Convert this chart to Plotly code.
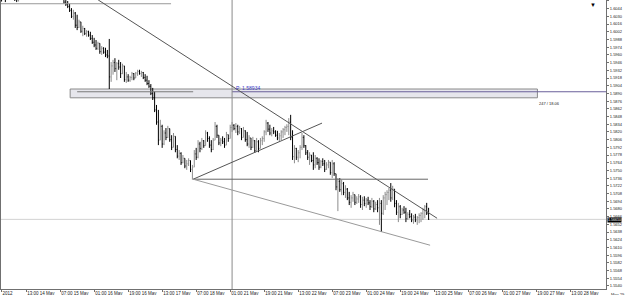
import plotly.graph_objects as go

# ---------------- data (hourly bars, index 0 = 13:00 14 May) ----------------
first_bar = -13
opens = [1.6068,1.6062,1.6071,1.6064,1.6078,1.6083,1.6070,1.6066,1.6061,1.6060,1.6070,1.6080,1.6088,
 1.6091,1.6094,1.6097,1.6093,1.6090,1.6092,1.6096,1.6094,1.6089,1.6086,1.6090,1.6088,1.6083,1.6086,1.6081,1.6077,1.6079,1.6073,1.6070,1.6067,
 1.6064,1.6056,1.6052,1.6048,1.6041,1.6030,1.6036,1.6014,1.6010,1.6020,1.6003,1.6008,1.5999,1.6002,1.5996,1.5990,1.5983,1.5978,1.5972,1.5981,
 1.5966,1.5972,1.5965,1.5960,1.5958,1.5920,1.5940,1.5946,1.5935,1.5944,1.5938,1.5926,1.5940,1.5915,1.5920,1.5914,1.5919,1.5926,1.5918,1.5927,
 1.5930,1.5926,1.5928,1.5919,1.5914,1.5908,1.5903,1.5890,1.5882,1.5860,1.5838,1.5805,1.5830,1.5798,1.5818,1.5810,1.5826,1.5806,1.5792,1.5812,
 1.5788,1.5776,1.5781,1.5764,1.5772,1.5758,1.5762,1.5768,1.5752,1.5756,1.5780,1.5774,1.5798,1.5790,1.5804,1.5795,1.5818,1.5808,1.5796,1.5788,
 1.5805,1.5830,1.5814,1.5800,1.5805,1.5802,1.5796,1.5815,1.5808,1.5828,1.5832,1.5826,1.5830,1.5820,1.5826,1.5810,1.5822,1.5806,1.5798,1.5809,
 1.5792,1.5804,1.5786,1.5802,1.5790,1.5804,1.5808,1.5820,1.5836,1.5825,1.5818,1.5822,1.5820,1.5814,1.5809,1.5813,1.5820,1.5824,1.5828,1.5830,
 1.5838,1.5810,1.5775,1.5790,1.5774,1.5782,1.5792,1.5810,1.5795,1.5782,1.5774,1.5778,1.5768,1.5760,1.5772,1.5764,1.5756,1.5766,1.5762,1.5752,
 1.5760,1.5765,1.5746,1.5762,1.5744,1.5720,1.5730,1.5715,1.5726,1.5710,1.5716,1.5700,1.5692,1.5700,1.5706,1.5692,1.5698,1.5702,1.5688,1.5696,
 1.5690,1.5696,1.5691,1.5684,1.5694,1.5680,1.5688,1.5682,1.5690,1.5672,1.5700,1.5706,1.5710,1.5714,1.5700,1.5716,1.5690,1.5674,1.5684,1.5670,
 1.5678,1.5674,1.5662,1.5670,1.5666,1.5660,1.5665,1.5660,1.5664,1.5668,1.5672,1.5678,1.5684,1.5672]
highs = [1.6072,1.6075,1.6073,1.6080,1.6086,1.6085,1.6076,1.6070,1.6064,1.6072,1.6082,1.6090,1.6095,
 1.6098,1.6101,1.6104,1.6099,1.6096,1.6100,1.6102,1.6098,1.6095,1.6093,1.6096,1.6092,1.6089,1.6091,1.6085,1.6083,1.6082,1.6078,1.6075,1.6071,
 1.6066,1.6060,1.6058,1.6053,1.6045,1.6042,1.6038,1.6033,1.6024,1.6020,1.6013,1.6009,1.6005,1.6004,1.6002,1.5996,1.5991,1.5987,1.5984,1.5981,
 1.5976,1.5974,1.5973,1.5969,1.5989,1.5947,1.5951,1.5954,1.5947,1.5951,1.5947,1.5944,1.5940,1.5929,1.5925,1.5922,1.5929,1.5927,1.5929,1.5933,
 1.5933,1.5931,1.5929,1.5925,1.5922,1.5914,1.5907,1.5900,1.5893,1.5869,1.5860,1.5842,1.5833,1.5823,1.5827,1.5831,1.5826,1.5814,1.5818,1.5812,
 1.5796,1.5787,1.5783,1.5778,1.5772,1.5769,1.5772,1.5768,1.5760,1.5787,1.5791,1.5805,1.5802,1.5809,1.5805,1.5823,1.5820,1.5812,1.5805,1.5809,
 1.5838,1.5833,1.5814,1.5809,1.5812,1.5809,1.5820,1.5815,1.5833,1.5838,1.5834,1.5836,1.5833,1.5831,1.5827,1.5829,1.5823,1.5820,1.5814,1.5809,
 1.5811,1.5805,1.5809,1.5805,1.5809,1.5812,1.5823,1.5842,1.5838,1.5833,1.5827,1.5829,1.5823,1.5822,1.5818,1.5823,1.5827,1.5831,1.5834,1.5845,
 1.5851,1.5823,1.5796,1.5791,1.5787,1.5796,1.5818,1.5814,1.5796,1.5787,1.5783,1.5778,1.5783,1.5778,1.5774,1.5772,1.5769,1.5772,1.5769,1.5765,
 1.5769,1.5765,1.5769,1.5765,1.5744,1.5736,1.5736,1.5733,1.5729,1.5723,1.5718,1.5711,1.5705,1.5711,1.5706,1.5703,1.5707,1.5705,1.5702,1.5703,
 1.5700,1.5702,1.5696,1.5700,1.5696,1.5693,1.5696,1.5700,1.5696,1.5705,1.5711,1.5714,1.5718,1.5727,1.5722,1.5716,1.5696,1.5691,1.5687,1.5682,
 1.5685,1.5682,1.5674,1.5678,1.5672,1.5669,1.5671,1.5667,1.5672,1.5674,1.5682,1.5687,1.5691,1.5682]
lows = [1.6057,1.6060,1.6056,1.6062,1.6074,1.6068,1.6062,1.6058,1.6056,1.6057,1.6068,1.6077,1.6083,
 1.6085,1.6088,1.6090,1.6086,1.6084,1.6089,1.6091,1.6087,1.6083,1.6081,1.6085,1.6080,1.6078,1.6079,1.6074,1.6072,1.6070,1.6067,1.6064,1.6061,
 1.6053,1.6049,1.6045,1.6038,1.6027,1.6024,1.6009,1.6005,1.6009,1.6000,1.5994,1.5996,1.5993,1.5993,1.5987,1.5980,1.5974,1.5969,1.5969,1.5962,
 1.5960,1.5962,1.5956,1.5954,1.5898,1.5911,1.5924,1.5929,1.5914,1.5933,1.5918,1.5925,1.5911,1.5909,1.5911,1.5911,1.5914,1.5914,1.5918,1.5922,
 1.5924,1.5920,1.5916,1.5911,1.5905,1.5900,1.5887,1.5878,1.5856,1.5833,1.5796,1.5805,1.5791,1.5796,1.5805,1.5809,1.5802,1.5787,1.5792,1.5783,
 1.5772,1.5769,1.5760,1.5763,1.5754,1.5751,1.5758,1.5747,1.5733,1.5756,1.5769,1.5772,1.5783,1.5787,1.5791,1.5795,1.5802,1.5791,1.5783,1.5787,
 1.5805,1.5809,1.5796,1.5794,1.5798,1.5791,1.5796,1.5802,1.5808,1.5820,1.5823,1.5818,1.5814,1.5816,1.5805,1.5810,1.5802,1.5794,1.5791,1.5787,
 1.5791,1.5782,1.5786,1.5783,1.5790,1.5796,1.5802,1.5814,1.5820,1.5814,1.5812,1.5816,1.5811,1.5805,1.5802,1.5805,1.5809,1.5814,1.5820,1.5814,
 1.5805,1.5769,1.5763,1.5769,1.5765,1.5772,1.5787,1.5791,1.5778,1.5769,1.5760,1.5765,1.5751,1.5754,1.5760,1.5751,1.5754,1.5758,1.5747,1.5751,
 1.5754,1.5742,1.5736,1.5740,1.5714,1.5676,1.5711,1.5705,1.5705,1.5700,1.5696,1.5687,1.5682,1.5693,1.5687,1.5689,1.5691,1.5682,1.5678,1.5685,
 1.5682,1.5687,1.5678,1.5682,1.5674,1.5678,1.5674,1.5651,1.5638,1.5669,1.5678,1.5687,1.5696,1.5693,1.5696,1.5683,1.5669,1.5656,1.5663,1.5669,
 1.5671,1.5656,1.5660,1.5663,1.5656,1.5653,1.5656,1.5651,1.5654,1.5656,1.5660,1.5663,1.5669,1.5660]
closes = [1.6062,1.6071,1.6064,1.6078,1.6083,1.6070,1.6066,1.6061,1.6060,1.6070,1.6080,1.6088,1.6091,
 1.6094,1.6097,1.6093,1.6090,1.6092,1.6096,1.6094,1.6089,1.6086,1.6090,1.6088,1.6083,1.6086,1.6081,1.6077,1.6079,1.6073,1.6070,1.6067,1.6064,
 1.6056,1.6052,1.6048,1.6041,1.6030,1.6036,1.6014,1.6010,1.6020,1.6003,1.6008,1.5999,1.6002,1.5996,1.5990,1.5983,1.5978,1.5972,1.5981,1.5966,
 1.5972,1.5965,1.5960,1.5958,1.5920,1.5940,1.5946,1.5935,1.5944,1.5938,1.5926,1.5940,1.5915,1.5920,1.5914,1.5919,1.5926,1.5918,1.5927,1.5930,
 1.5926,1.5928,1.5919,1.5914,1.5908,1.5903,1.5890,1.5882,1.5860,1.5838,1.5805,1.5830,1.5798,1.5818,1.5810,1.5826,1.5806,1.5792,1.5812,1.5788,
 1.5776,1.5781,1.5764,1.5772,1.5758,1.5762,1.5768,1.5752,1.5756,1.5780,1.5774,1.5798,1.5790,1.5804,1.5795,1.5818,1.5808,1.5796,1.5788,1.5805,
 1.5830,1.5814,1.5800,1.5805,1.5802,1.5796,1.5815,1.5808,1.5828,1.5832,1.5826,1.5830,1.5820,1.5826,1.5810,1.5822,1.5806,1.5798,1.5809,1.5792,
 1.5804,1.5786,1.5802,1.5790,1.5804,1.5808,1.5820,1.5836,1.5825,1.5818,1.5822,1.5820,1.5814,1.5809,1.5813,1.5820,1.5824,1.5828,1.5830,1.5838,
 1.5810,1.5775,1.5790,1.5774,1.5782,1.5792,1.5810,1.5795,1.5782,1.5774,1.5778,1.5768,1.5760,1.5772,1.5764,1.5756,1.5766,1.5762,1.5752,1.5760,
 1.5765,1.5746,1.5762,1.5744,1.5720,1.5730,1.5715,1.5726,1.5710,1.5716,1.5700,1.5692,1.5700,1.5706,1.5692,1.5698,1.5702,1.5688,1.5696,1.5690,
 1.5696,1.5691,1.5684,1.5694,1.5680,1.5688,1.5682,1.5690,1.5672,1.5700,1.5706,1.5710,1.5714,1.5700,1.5716,1.5690,1.5674,1.5684,1.5670,1.5678,
 1.5674,1.5662,1.5670,1.5666,1.5660,1.5665,1.5660,1.5664,1.5668,1.5672,1.5678,1.5684,1.5672,1.5661]

# time axis labels (bar index of label, text)
time_tick_bars = [-13.0, 0, 18, 36, 54, 72, 90, 108, 126, 144, 162, 180, 198, 216, 234, 252, 270, 288]
time_tick_text = ["2012", "13:00 14 May", "07:00 15 May", "01:00 16 May", "19:00 16 May", "13:00 17 May",
                  "07:00 18 May", "01:00 21 May", "19:00 21 May", "13:00 22 May", "07:00 23 May",
                  "01:00 24 May", "19:00 24 May", "13:00 25 May", "07:00 26 May", "01:00 27 May",
                  "19:00 27 May", "13:00 28 May"]
edge_time_text = "May 29 0"

# price axis
price_ticks = [round(1.5540 + 0.0014 * i, 4) for i in range(38)]
price_range = [1.55344, 1.60598]
bar_range = [-13.3, 306.9]

# drawing objects (bar index, price)
down_trend = [(38.1, 1.6060), (217.5, 1.5663)]
up_trend = [(88.4, 1.5734), (156.6, 1.5836)]
support_line = [(88.4, 1.5734), (212.7, 1.5734)]
lower_trend = [(88.4, 1.5734), (213.8, 1.5614)]
top_line = [(-14.0, 1.6053), (76.7, 1.6053)]
zone_box = [(23.3, 1.5898), (270.6, 1.5882)]
zone_line_grey = [(27.0, 1.5893), (88.4, 1.5893)]
pivot_level = 1.5893
pivot_bar = 109.0
vline_bar = 109.0
current_price = 1.5661
pivot_text = "P: 1.58934"
info_text = "247 / 18.06"

x = list(range(first_bar, first_bar + len(closes)))
FONT = "Liberation Sans"

fig = go.Figure()
fig.add_trace(go.Ohlc(
    x=x, open=opens, high=highs, low=lows, close=closes,
    increasing=dict(line=dict(color="#8c8c8c", width=1)),
    decreasing=dict(line=dict(color="#000000", width=1)),
    tickwidth=0.35, hoverinfo="skip", showlegend=False,
))

shapes = []
def seg(p, color, width=1, dash="solid"):
    shapes.append(dict(type="line", xref="x", yref="y", x0=p[0][0], y0=p[0][1], x1=p[1][0], y1=p[1][1],
                       line=dict(color=color, width=width, dash=dash), layer="above"))

# zone rectangle
shapes.append(dict(type="rect", xref="x", yref="y", x0=zone_box[0][0], y0=zone_box[0][1],
                   x1=zone_box[1][0], y1=zone_box[1][1], fillcolor="#e6e6ec",
                   line=dict(color="#8a8a8a", width=1), layer="below"))
seg(zone_line_grey, "#7a7a7a")
shapes.append(dict(type="line", xref="x", yref="y", x0=pivot_bar, x1=bar_range[1], y0=pivot_level, y1=pivot_level,
                   line=dict(color="#6a5f9a", width=1), layer="above"))
# current price line
shapes.append(dict(type="line", xref="paper", yref="y", x0=0, x1=1, y0=current_price, y1=current_price,
                   line=dict(color="#d2d2d2", width=1), layer="below"))
# vertical line
shapes.append(dict(type="line", xref="x", yref="paper", x0=vline_bar, x1=vline_bar, y0=0, y1=1,
                   line=dict(color="#8a8a8a", width=1), layer="above"))
seg(top_line, "#9a9a9a")
seg(down_trend, "#555555")
seg(up_trend, "#555555")
seg(support_line, "#666666")
seg(lower_trend, "#9a9a9a")

annotations = [
    dict(xref="x", yref="y", x=pivot_bar + 0.8, y=pivot_level, text=pivot_text, showarrow=False,
         xanchor="left", yanchor="bottom", font=dict(size=5, color="#3a3ac8", family=FONT), yshift=-1),
    dict(xref="x", yref="y", x=zone_box[1][0], y=zone_box[1][1], text=info_text, showarrow=False,
         xanchor="left", yanchor="top", font=dict(size=4, color="#222222", family=FONT), yshift=-1),
    dict(xref="paper", yref="y", x=1.0, y=current_price, text=f"{current_price:.5f}", showarrow=False,
         xanchor="left", yanchor="middle", bgcolor="#000000", font=dict(size=3.6, color="#ffffff", family=FONT),
         borderpad=0, xshift=1, yshift=-1),
    dict(xref="paper", yref="paper", x=0.978, y=1.0, text="▼", showarrow=False, xanchor="center", yanchor="top",
         font=dict(size=6, color="#000000")),
    dict(xref="paper", yref="paper", x=1.0, y=0, text=edge_time_text, showarrow=False, xanchor="left",
         yanchor="top", xshift=3, yshift=-1, font=dict(size=4, color="#222222", family=FONT)),
]

fig.update_layout(
    width=625, height=295,
    margin=dict(l=1, r=19, t=0, b=6, autoexpand=False),
    paper_bgcolor="#ffffff", plot_bgcolor="#ffffff",
    shapes=shapes, annotations=annotations,
    showlegend=False,
    font=dict(family=FONT, size=4, color="#222222"),
    xaxis=dict(range=bar_range, tickmode="array", tickvals=time_tick_bars, ticktext=time_tick_text,
               showgrid=False, zeroline=False, showline=True, linecolor="#707070", linewidth=1, mirror=True,
               ticks="outside", ticklen=2, tickcolor="#707070", tickfont=dict(size=4.5, family=FONT), tickangle=0,
               automargin=False, ticklabelposition="outside right", rangeslider=dict(visible=False)),
    yaxis=dict(range=price_range, side="right", tickmode="array", tickvals=price_ticks,
               ticktext=[f"{v:.4f}" for v in price_ticks], showgrid=False, zeroline=False,
               showline=True, linecolor="#707070", linewidth=1, mirror=True, automargin=False,
               ticks="outside", ticklen=2, tickcolor="#707070", tickfont=dict(size=4, family=FONT)),
)

fig.write_html("out.html")
